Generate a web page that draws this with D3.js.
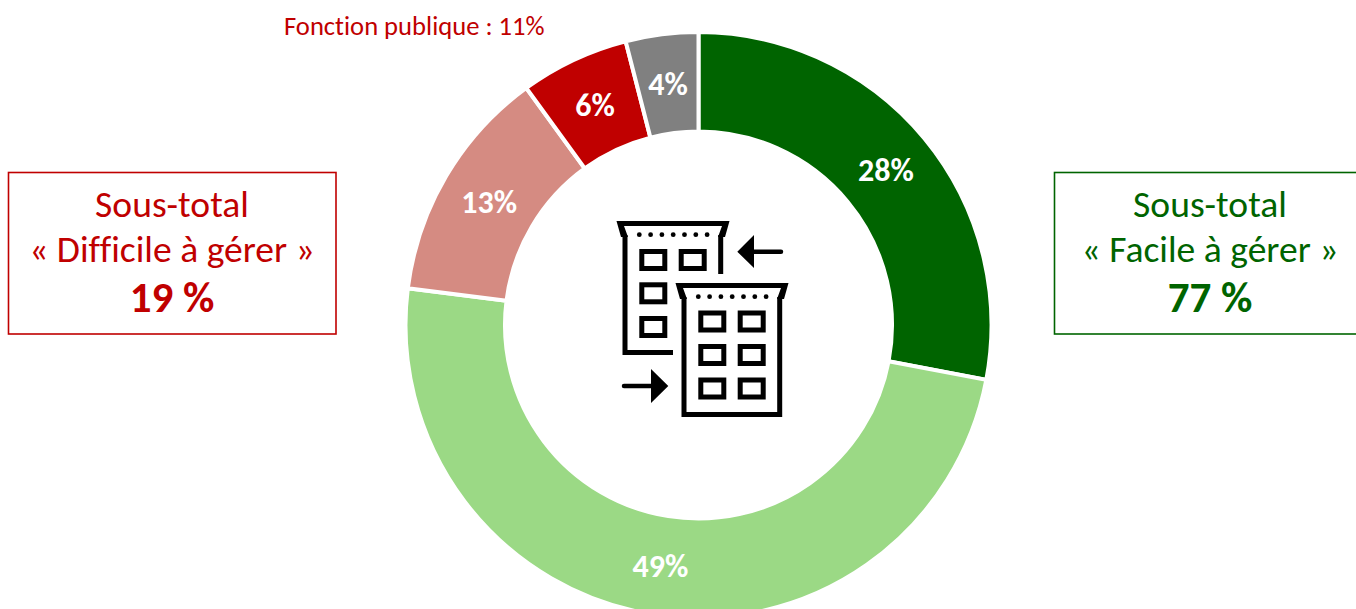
<!DOCTYPE html>
<html><head><meta charset="utf-8">
<script src="https://cdn.jsdelivr.net/npm/d3@7"></script>
<style>html,body{margin:0;padding:0;background:#fff;overflow:hidden}svg{display:block}text{font-family:Carlito,Lato,"Open Sans",sans-serif;font-variant-ligatures:none}</style>
</head><body><svg id="c" width="1356" height="609"></svg>
<script>
const categories = ["Facile A","Facile B","Difficile A","Difficile B","Autre"];
const values = [28,49,13,6,4];
const colors = ["#006400","#9BD985","#D58B82","#C00000","#808080"];
const note = "Fonction publique : 11%";
const boxes = [
 {x:8.5,w:327.5,cx:172,color:"#C00000",lines:["Sous-total","« Difficile à gérer »"],total:"19 %"},
 {x:1054.5,w:320,cx:1210,color:"#006400",lines:["Sous-total","« Facile à gérer »"],total:"77 %"}
];
const svg = d3.select("#c");
const cx=698.5, cy=325, R=293, r=193.5;
const pie = d3.pie().sort(null).value(d=>d);
const arc = d3.arc().innerRadius(r).outerRadius(R);
const g = svg.append("g").attr("transform",`translate(${cx},${cy})`);
const arcs = pie(values);
g.selectAll("path").data(arcs).join("path").attr("d",arc)
 .attr("fill",(d,i)=>colors[i]).attr("stroke","#fff").attr("stroke-width",4);
g.selectAll("text").data(arcs).join("text")
 .attr("x",d=>arc.centroid(d)[0]).attr("y",d=>arc.centroid(d)[1]+1)
 .attr("text-anchor","middle").attr("dominant-baseline","central")
 .attr("font-size",32).attr("font-weight",700).attr("fill","#fff").text(d=>d.value+"%");

svg.append("text").attr("x",284).attr("y",35).attr("font-size",26.6).attr("fill","#C00000").text(note);

boxes.forEach(b=>{
 svg.append("rect").attr("x",b.x).attr("y",172.5).attr("width",b.w).attr("height",161.5)
  .attr("fill","#fff").attr("stroke",b.color).attr("stroke-width",1.6);
 b.lines.forEach((t,i)=>svg.append("text").attr("x",b.cx).attr("y",217+i*45).attr("text-anchor","middle")
  .attr("font-size",37.6).attr("fill",b.color).text(t));
 svg.append("text").attr("x",b.cx).attr("y",312).attr("text-anchor","middle")
  .attr("font-size",43).attr("font-weight",700).attr("fill",b.color).text(b.total);
});

// central icon
const ic = svg.append("g").attr("fill","none").attr("stroke","#000").attr("stroke-width",5);
function building(dx,dy){
 const b = ic.append("g").attr("transform",`translate(${dx},${dy})`);
 b.append("path").attr("fill","#000").attr("stroke","none")
  .attr("d","M616.5,221 H729.5 L725,237 H718 L722,226 H624 L628,237 H621 Z");
 d3.range(7).forEach(i=>b.append("circle").attr("cx",639.3+11.3*i).attr("cy",234.7).attr("r",2.4).attr("fill","#000").attr("stroke","none"));
 return b;
}
const back = building(0,0);
back.append("path").attr("d","M625,235 V352.5 H673 M720.7,235 V274");
[[641.8,251.5],[681.2,251.5],[641.8,284.8],[641.8,318.5]].forEach(p=>
 back.append("rect").attr("x",p[0]).attr("y",p[1]).attr("width",23).attr("height",17));
const front = building(59,62);
front.append("path").attr("d","M625,235 V352.5 H720.7 V235");
[[641.8,251],[681.2,251],[641.8,284.5],[681.2,284.5],[641.8,318],[681.2,318]].forEach(p=>
 front.append("rect").attr("x",p[0]).attr("y",p[1]).attr("width",23).attr("height",17));
ic.append("path").attr("fill","#000").attr("stroke","none").attr("d","M737.3,251.7 L754,235 V268 Z M668.3,386 L651,369 V403 Z");
ic.append("path").attr("stroke-linecap","round").attr("stroke-width",4.5).attr("d","M752,251.7 H781 M653,386 H624");
</script></body></html>
